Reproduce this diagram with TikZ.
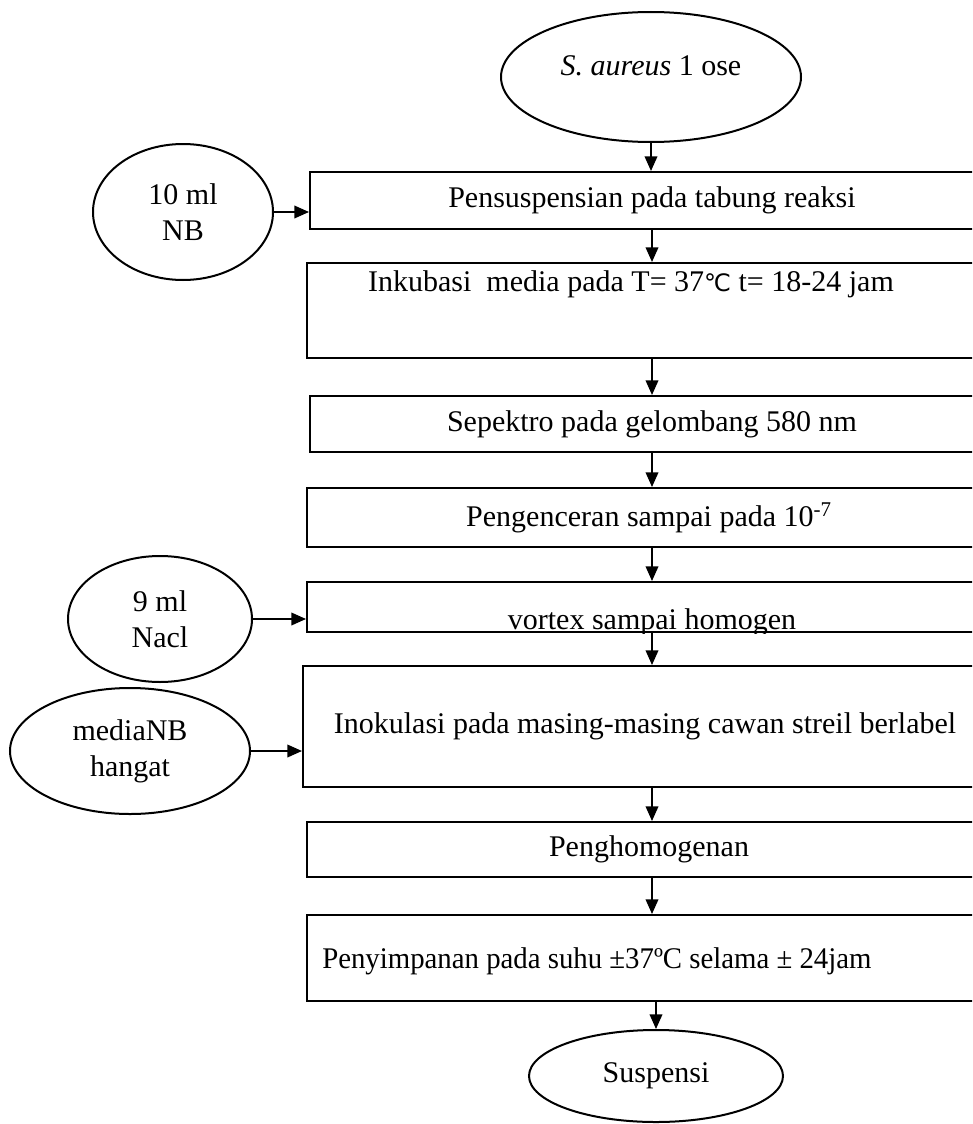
\documentclass[tikz,border=0pt]{standalone}
\usepackage{fontspec}
\setmainfont{Liberation Serif}
\newfontfamily\symfont{DejaVu Sans}
\usepackage{tikz}
\usetikzlibrary{shapes.geometric,arrows.meta}

\tikzset{
  procbox/.style={draw,line width=1.5pt,rectangle,minimum width=513pt,minimum height=#1,inner sep=0pt},
  inbox/.style={draw,line width=1.5pt,ellipse,inner sep=0pt,align=center},
  flow/.style={-{Triangle[length=11pt,width=9.5pt]},line width=1.2pt},
  every node/.style={font=\fontsize{22.5}{27}\selectfont}
}

\begin{document}
\begin{tikzpicture}[x=0.75pt,y=0.75pt,yscale=-1,xscale=1]
\useasboundingbox (0,0) rectangle (972,1124);
\clip (0,0) rectangle (972,1124);
\coordinate (axis) at (652,0);

%Shape: Ellipse
\node [inbox,minimum width=225pt,minimum height=97.5pt] (saureus) at (651,77) {\raisebox{1.5pt}[0pt][0pt]{\textit{S. aureus} 1 ose}};
%Shape: Ellipse
\node [inbox,minimum width=135pt,minimum height=102pt] (nb) at (183,212) {10 ml\\NB};
%Shape: Ellipse
\node [inbox,minimum width=138pt,minimum height=94.5pt] (nacl) at (160,619) {9 ml\\Nacl};
%Shape: Ellipse
\node [inbox,minimum width=180pt,minimum height=94.5pt] (medianb) at (130,751) {mediaNB\\hangat};
%Shape: Ellipse
\node [inbox,minimum width=190.5pt,minimum height=69pt] (suspensi) at (656,1076) {Suspensi};

%Shape: Rectangle
\node [procbox=42.75pt] (susp) at (652,200.5) {Pensuspensian pada tabung reaksi};
\node [procbox=71.25pt] (incub) at (649,310.5) {};
\node [procbox=42pt] (spektro) at (652,424) {Sepektro pada gelombang 580 nm};
\node [procbox=44.25pt] (encer) at (649,517.5) {Pengenceran sampai pada 10\textsuperscript{-7}};
\node [procbox=37.5pt] (vortex) at (649,607) {};
\node [procbox=90.75pt] (inokulasi) at (645,726.5) {Inokulasi pada masing-masing cawan streil berlabel};
\node [procbox=41.25pt] (homogen) at (649,849.5) {Penghomogenan};
\node [procbox=64.5pt] (simpan) at (649,958) {};

% Text Node
\node (incubtxt) at (631,284) {Inkubasi\ \ media pada T= 37{\symfont\fontsize{18}{20}\selectfont ℃} t= 18-24 jam};
% Text Node
\begin{scope}
\clip (vortex.north west) rectangle (vortex.south east);
\node [anchor=base] (vortextxt) at (652,629) {vortex sampai homogen};
\end{scope}
% Text Node
\node [anchor=west,inner sep=0pt] (simpantxt) at (322,961) {\scalebox{0.96}[1]{Penyimpanan pada suhu ±37ºC selama ± 24jam}};

%Straight Lines
\draw [flow] (saureus.south) -- (saureus.south |- susp.north);
\draw [flow] (susp.south -| axis) -- (incub.north -| axis);
\draw [flow] (incub.south -| axis) -- (spektro.north -| axis);
\draw [flow] (spektro.south -| axis) -- (encer.north -| axis);
\draw [flow] (encer.south -| axis) -- (vortex.north -| axis);
\draw [flow] (vortex.south -| axis) -- (inokulasi.north -| axis);
\draw [flow] (inokulasi.south -| axis) -- (homogen.north -| axis);
\draw [flow] (homogen.south -| axis) -- (simpan.north -| axis);
\draw [flow] (suspensi.north |- simpan.south) -- (suspensi.north);
%Straight Lines
\draw [flow] (nb.east) -- (nb.east -| susp.west);
\draw [flow] (nacl.east) -- (nacl.east -| vortex.west);
\draw [flow] (medianb.east) -- (medianb.east -| inokulasi.west);
\end{tikzpicture}
\end{document}
